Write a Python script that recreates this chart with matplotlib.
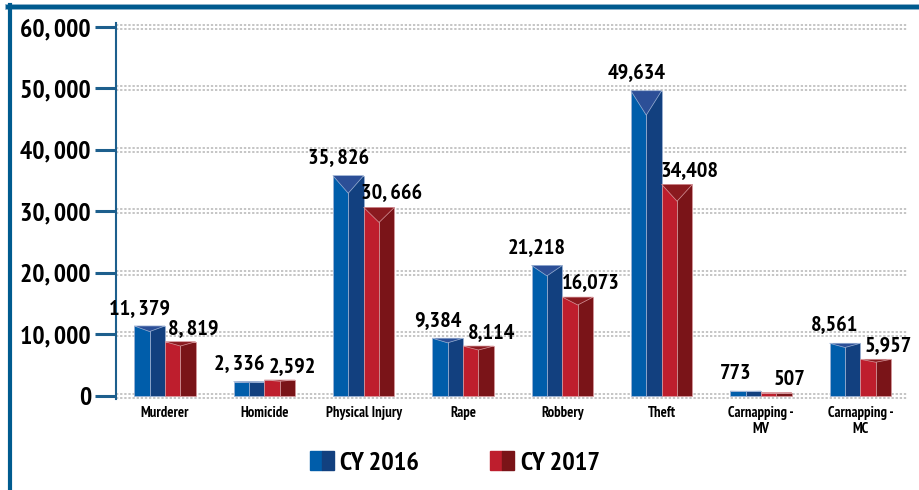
import matplotlib
matplotlib.use("Agg")
import matplotlib.pyplot as plt
import matplotlib.transforms as mtransforms
import numpy as np
from matplotlib.lines import Line2D
from matplotlib.patches import Polygon, Rectangle
from matplotlib.legend_handler import HandlerTuple

## Données
categories = ["Murderer", "Homicide", "Physical Injury", "Rape", "Robbery",
              "Theft", "Carnapping -\nMV", "Carnapping -\nMC"]
cy2016 = [11379, 2336, 35826, 9384, 21218, 49634, 773, 8561]
cy2017 = [8819, 2592, 30666, 8114, 16073, 34408, 507, 5957]
labels_2016 = ["11, 379", "2, 336", "35, 826", "9,384", "21,218", "49,634", "773", "8,561"]
labels_2017 = ["8, 819", "2,592", "30, 666", "8,114", "16,073", "34,408", "507", "5,957"]
series_names = ["CY 2016", "CY 2017"]
y_ticks = [0, 10000, 20000, 30000, 40000, 50000, 60000]
y_tick_labels = ["0", "10, 000", "20, 000", "30, 000", "40, 000", "50, 000", "60, 000"]

## Police étroite (proche de Myriad Condensed)
plt.rcParams["font.family"] = ["PT Sans Narrow", "Open Sans Condensed", "Roboto Condensed", "DejaVu Sans"]

blue = ("#005daa", "#12407f", "#2c4f97", "#9fb4d6")
red = ("#be1e2d", "#7a1418", "#8a1a1f", "#d89a9f")
axis_col = "#1d5f8d"

fig = plt.figure(figsize=(9.19, 4.9), dpi=100)
ax = fig.add_axes([116 / 919, 1 - 399 / 490, (908 - 116) / 919, (399 - 23.3) / 490])

x = np.arange(len(categories))
w = 0.31


def barres_3d(ax, xs, vals, cols):
    light, dark, top, edge = cols
    ax.bar(xs - w / 4, vals, w / 2, color=light, edgecolor=edge, linewidth=0.5, zorder=3)
    ax.bar(xs + w / 4, vals, w / 2, color=dark, edgecolor=edge, linewidth=0.5, zorder=3)
    for xc, v in zip(xs, vals):
        d = 0.08 * v
        ax.add_patch(Polygon([(xc - w / 2, v), (xc + w / 2, v), (xc, v - d)],
                             closed=True, facecolor=top, edgecolor=edge,
                             linewidth=0.5, zorder=4))


barres_3d(ax, x - w / 2, cy2016, blue)
barres_3d(ax, x + w / 2, cy2017, red)

## Etiquettes des valeurs
for xc, v, lab in zip(x - w / 2, cy2016, labels_2016):
    ax.annotate(lab, (xc, v), xytext=(-10, 8), textcoords="offset pixels",
                ha="center", va="bottom", fontsize=16, fontweight="bold", zorder=5)
for xc, v, lab in zip(x + w / 2, cy2017, labels_2017):
    ax.annotate(lab, (xc, v), xytext=(13, 4), textcoords="offset pixels",
                ha="center", va="bottom", fontsize=16, fontweight="bold", zorder=5)

## Grille en double pointillé
for t in y_ticks:
    for dy in (-2, 2):
        tr = mtransforms.offset_copy(ax.get_yaxis_transform(), fig=fig, x=0, y=dy, units="dots")
        ax.plot([0, 1], [t, t], transform=tr, color="#b5b5b5", linewidth=1.1,
                linestyle=(0, (1.5, 1.2)), zorder=1, clip_on=False)

ax.set_xlim(-0.493, 7.48)
ax.set_ylim(-500, 60600)
ax.set_yticks(y_ticks, y_tick_labels)
ax.set_xticks(x, categories)
for lab in ax.get_yticklabels():
    lab.set_fontweight("bold")
for lab in ax.get_xticklabels():
    lab.set_fontweight("bold")
ax.tick_params(axis="y", direction="out", length=15, width=2.2, color=axis_col,
               pad=3, labelsize=18.5)
ax.tick_params(axis="x", length=0, pad=5, labelsize=10.5)

for s in ["top", "right", "bottom"]:
    ax.spines[s].set_visible(False)
ax.spines["left"].set_color(axis_col)
ax.spines["left"].set_linewidth(1.5)

## Légende
handles = [(Rectangle((0, 0), 1, 1, color=blue[0]), Rectangle((0, 0), 1, 1, color=blue[1])),
           (Rectangle((0, 0), 1, 1, color=red[0]), Rectangle((0, 0), 1, 1, color=red[1]))]
fig.legend(handles, series_names, handler_map={tuple: HandlerTuple(ndivide=None, pad=0)},
           loc="center", bbox_to_anchor=(0.495, 0.055), ncol=2, frameon=False,
           prop={"size": 19, "weight": "bold"}, handlelength=0.9, handleheight=0.7,
           handletextpad=0.25, columnspacing=2.7)

## Cadre bleu (haut et gauche)
fig.add_artist(Line2D([8 / 919, 1], [1 - 7 / 490] * 2, transform=fig.transFigure,
                      color="#8fb3cc", linewidth=4.2))
fig.add_artist(Line2D([8 / 919, 1], [1 - 7 / 490] * 2, transform=fig.transFigure,
                      color="#005b8f", linewidth=3))
fig.add_artist(Line2D([9.5 / 919] * 2, [0, 1 - 5 / 490], transform=fig.transFigure,
                      color="#005b8f", linewidth=3))

fig.savefig("out.png", dpi=100)
